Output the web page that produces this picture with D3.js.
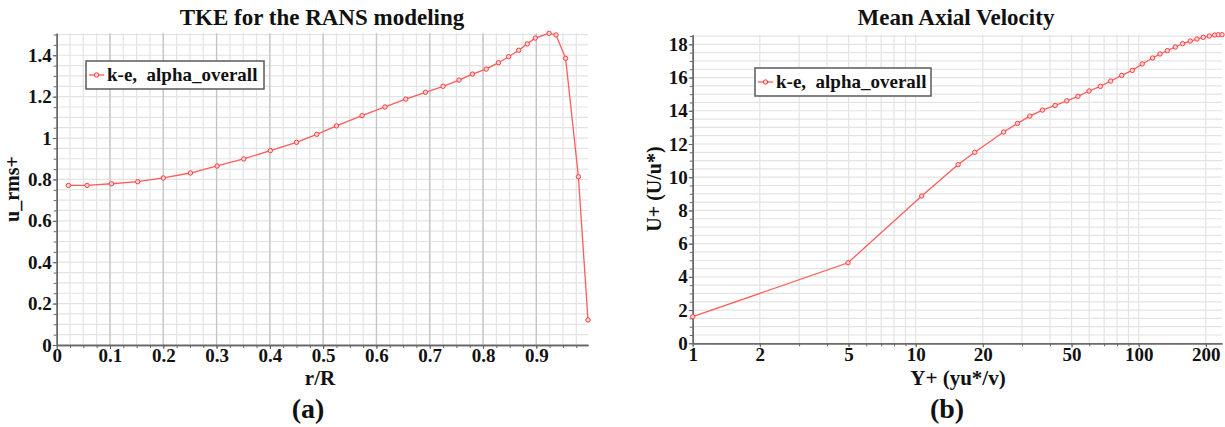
<!DOCTYPE html>
<html>
<head>
<meta charset="utf-8">
<script src="https://cdn.jsdelivr.net/npm/d3@7"></script>
<style>
    body { margin: 0; background: #fff; }
    svg text { font-family: "Liberation Serif", "Times New Roman", serif; font-weight: bold; fill: #111; }
</style>
</head>
<body>
<svg id="chart" width="1225" height="427"></svg>
<script>
// (a) TKE profile
var tkeR = [0.022, 0.057, 0.103, 0.152, 0.200, 0.251, 0.301, 0.351, 0.401, 0.450, 0.488, 0.525, 0.573, 0.616, 0.655,
    0.692, 0.725, 0.755, 0.780, 0.806, 0.829, 0.848, 0.867, 0.883, 0.898, 0.924, 0.937, 0.955, 0.979, 0.997];
var tkeU = [0.771, 0.771, 0.779, 0.789, 0.807, 0.831, 0.865, 0.899, 0.939, 0.979, 1.018, 1.059, 1.108, 1.150, 1.188,
    1.221, 1.250, 1.280, 1.309, 1.333, 1.364, 1.393, 1.424, 1.455, 1.483, 1.506, 1.498, 1.385, 0.813, 0.121];
var tkeXTicks = [0, 0.1, 0.2, 0.3, 0.4, 0.5, 0.6, 0.7, 0.8, 0.9];
var tkeYTicks = [0, 0.2, 0.4, 0.6, 0.8, 1, 1.2, 1.4];

// (b) mean axial velocity
var yPlus = [1, 4.97, 10.64, 15.5, 18.4, 24.8, 28.6, 32.5, 37.0, 42.2, 47.6, 53.4, 59.9, 67.3, 74.9,
    83.9, 93.6, 103.7, 115.5, 124.6, 134.4, 145.9, 157.5, 170.3, 182.5, 194.8, 207.3, 219.2, 227.5, 236.4];
var uPlus = [1.60, 4.85, 8.87, 10.76, 11.50, 12.72, 13.24, 13.68, 14.04, 14.32, 14.60, 14.87, 15.19, 15.47, 15.79,
    16.13, 16.43, 16.82, 17.18, 17.42, 17.62, 17.84, 18.04, 18.20, 18.32, 18.42, 18.50, 18.56, 18.58, 18.58];
var velXTicks = [1, 2, 5, 10, 20, 50, 100, 200];
var velYTicks = [0, 2, 4, 6, 8, 10, 12, 14, 16, 18];

var seriesName = "k-e,  alpha_overall";

var svg = d3.select("#chart");
svg.append("rect").attr("width", 1225).attr("height", 427).attr("fill", "#fff");

function drawPanel(o) {
    var x = o.x, y = o.y;
    var g = svg.append("g");
    var x0 = x.range()[0], x1 = x.range()[1];
    var y0 = y.range()[0], y1 = y.range()[1];

    // grid
    g.selectAll(".hgrid").data(o.yMinor).enter().append("line")
        .attr("x1", x0).attr("x2", x1)
        .attr("y1", function (d) { return y(d); }).attr("y2", function (d) { return y(d); })
        .attr("stroke", "#e3e3e3").attr("stroke-width", 1.2);
    g.selectAll(".vgrid").data(o.xMinor).enter().append("line")
        .attr("y1", y0).attr("y2", y1)
        .attr("x1", function (d) { return x(d); }).attr("x2", function (d) { return x(d); })
        .attr("stroke", "#e3e3e3").attr("stroke-width", 1.2);
    g.selectAll(".vmajor").data(o.xMajorGrid).enter().append("line")
        .attr("y1", y0).attr("y2", y1)
        .attr("x1", function (d) { return x(d); }).attr("x2", function (d) { return x(d); })
        .attr("stroke", o.majorColor).attr("stroke-width", 1.3);

    // axes
    var ax = g.append("g").attr("transform", "translate(0," + y0 + ")");
    ax.call(d3.axisBottom(x).tickValues(o.xMinor).tickSize(3).tickSizeOuter(0).tickFormat(""));
    var axl = g.append("g").attr("transform", "translate(0," + y0 + ")");
    axl.call(d3.axisBottom(x).tickValues(o.xTicks).tickSize(4).tickPadding(0).tickSizeOuter(0).tickFormat(o.xFormat));
    var ay = g.append("g").attr("transform", "translate(" + x0 + ",0)");
    ay.call(d3.axisLeft(y).tickValues(o.yMinor).tickSize(3).tickSizeOuter(0).tickFormat(""));
    var ayl = g.append("g").attr("transform", "translate(" + x0 + ",0)");
    ayl.call(d3.axisLeft(y).tickValues(o.yTicks).tickSize(4).tickPadding(1).tickSizeOuter(0).tickFormat(o.yFormat));

    g.selectAll(".domain").attr("stroke", "#666").attr("stroke-width", 1.3);
    g.selectAll(".tick line").attr("stroke", "#666");
    g.selectAll(".tick text").attr("font-size", "19px").attr("font-family", null).attr("fill", "#111");

    // series
    var line = d3.line()
        .x(function (d) { return x(d[0]); })
        .y(function (d) { return y(d[1]); });
    var pts = o.xs.map(function (v, i) { return [v, o.ys[i]]; });
    g.append("path").datum(pts)
        .attr("d", line)
        .attr("fill", "none")
        .attr("stroke", "#ff5c5c")
        .attr("stroke-width", 1.3);
    g.selectAll(".pt").data(pts).enter().append("circle")
        .attr("cx", function (d) { return x(d[0]); })
        .attr("cy", function (d) { return y(d[1]); })
        .attr("r", 2.2)
        .attr("fill", "#ffd6d6")
        .attr("stroke", "#ff3d3d")
        .attr("stroke-width", 1);

    // titles
    svg.append("text").attr("x", o.titleX).attr("y", 25).attr("text-anchor", "middle")
        .attr("font-size", "23px").text(o.title);
    svg.append("text").attr("x", o.xLabelX).attr("y", 385).attr("text-anchor", "middle")
        .attr("font-size", "21px").text(o.xLabel);
    svg.append("text").attr("transform", "translate(" + o.yLabelX + ",189) rotate(-90)")
        .attr("text-anchor", "middle").attr("font-size", "20px").text(o.yLabel);
    svg.append("text").attr("x", o.tagX).attr("y", 418).attr("text-anchor", "middle")
        .attr("font-size", "28px").text(o.tag);

    // legend
    var lg = svg.append("g").attr("transform", "translate(" + o.legend[0] + "," + o.legend[1] + ")");
    lg.append("rect").attr("width", o.legend[2]).attr("height", 28)
        .attr("fill", "#fff").attr("stroke", "#5a5a5a").attr("stroke-width", 1.5);
    lg.append("line").attr("x1", 3).attr("x2", 18).attr("y1", 14).attr("y2", 14)
        .attr("stroke", "#ff5c5c").attr("stroke-width", 1.3);
    lg.append("circle").attr("cx", 10.5).attr("cy", 14).attr("r", 2.2)
        .attr("fill", "#ffd6d6").attr("stroke", "#ff3d3d").attr("stroke-width", 1);
    lg.append("text").attr("x", 21).attr("y", 20).attr("font-size", "19px")
        .style("white-space", "pre").text(seriesName);
}

// (a)
var xA = d3.scaleLinear().domain([0, d3.max(tkeR)]).range([56.7, 588]);
var yA = d3.scaleLinear().domain([0, d3.max(tkeU)]).range([345, 33.3]);
drawPanel({
    x: xA, y: yA, xs: tkeR, ys: tkeU,
    xTicks: tkeXTicks, yTicks: tkeYTicks,
    xMinor: d3.range(0, 1.0, 0.025), yMinor: d3.range(0, 1.52, 0.05),
    xMajorGrid: tkeXTicks.slice(1), majorColor: "#c4c4c4",
    xFormat: function (d) { return String(+d.toFixed(1)); },
    yFormat: function (d) { return String(+d.toFixed(1)); },
    title: "TKE for the RANS modeling", titleX: 322,
    xLabel: "r/R", xLabelX: 320,
    yLabel: "u_rms+", yLabelX: 19,
    tag: "(a)", tagX: 308,
    legend: [86, 61, 178]
});

// (b)
var xB = d3.scaleLog().domain([1, d3.max(yPlus)]).range([692.7, 1222]);
var yB = d3.scaleLinear().domain([0, d3.max(uPlus)]).range([343.3, 34.7]);
var logMinor = [];
[1, 10, 100].forEach(function (p) {
    for (var k = 1; k < 10; k++) { if (k * p <= d3.max(yPlus)) logMinor.push(k * p); }
});
drawPanel({
    x: xB, y: yB, xs: yPlus, ys: uPlus,
    xTicks: velXTicks, yTicks: velYTicks,
    xMinor: logMinor, yMinor: d3.range(0, 18.6, 0.5),
    xMajorGrid: [], majorColor: "#d0d0d0",
    xFormat: function (d) { return String(d); },
    yFormat: function (d) { return String(d); },
    title: "Mean Axial Velocity", titleX: 956,
    xLabel: "Y+ (yu*/v)", xLabelX: 958,
    yLabel: "U+ (U/u*)", yLabelX: 661,
    tag: "(b)", tagX: 947,
    legend: [755, 68, 176]
});
</script>
</body>
</html>
